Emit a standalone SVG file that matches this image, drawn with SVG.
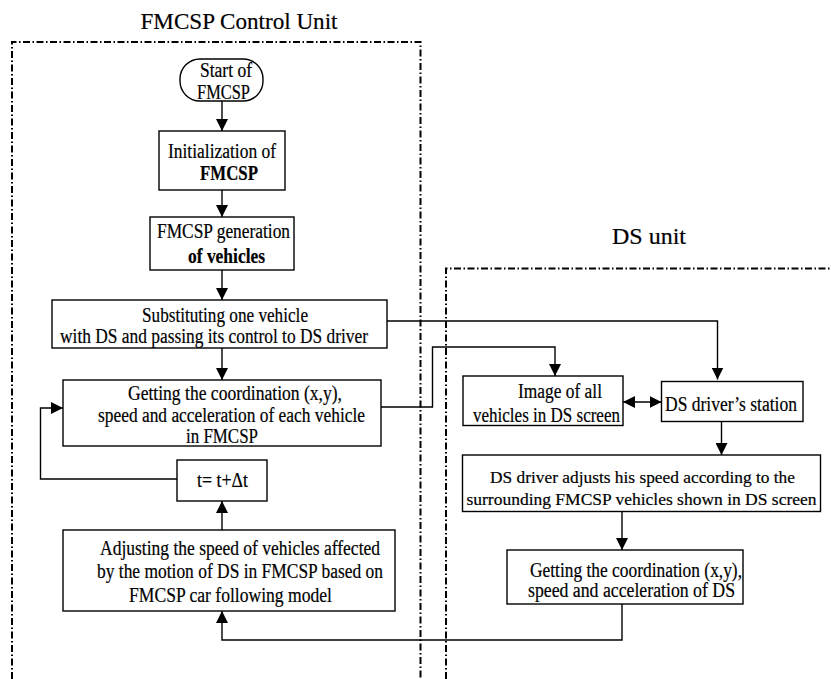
<svg xmlns="http://www.w3.org/2000/svg" width="831" height="679" viewBox="0 0 831 679">
  <style>
    text { font-family: 'Liberation Serif', 'Times New Roman', serif; fill: #000; stroke: #000; stroke-width: 0.2; text-anchor: middle; }
    .t { font-size: 20px; }
    .s { font-size: 17.5px; }
    .title { font-size: 24px; }
    .b { font-weight: bold; }
    .box { fill: #fff; stroke: #000; stroke-width: 1.4; }
    .unit { fill: none; stroke: #000; stroke-width: 2; stroke-dasharray: 7 2.5 1.5 2.5; }
    .wire { fill: none; stroke: #000; stroke-width: 1.4; }
  </style>
  <defs>
    <marker id="arr" viewBox="0 0 12 12" refX="12" refY="6" markerWidth="12" markerHeight="12" markerUnits="userSpaceOnUse" orient="auto-start-reverse">
      <path d="M0,0 L12,6 L0,12 Z" fill="#000"/>
    </marker>
  </defs>
  <rect width="831" height="679" fill="#fff"/>

  <!-- unit frames -->
  <g id="fmcsp-unit">
    <text class="title" x="239" y="29" textLength="197" lengthAdjust="spacingAndGlyphs">FMCSP Control Unit</text>
    <path class="unit" d="M12,679 V42 H420.5 V679"/>
  </g>
  <g id="ds-unit">
    <text class="title" x="649" y="244">DS unit</text>
    <path class="unit" d="M446,679 V268.5 H831"/>
  </g>

  <!-- connectors -->
  <g id="connectors">
    <path class="wire" d="M222,101 V131" marker-end="url(#arr)"/>
    <path class="wire" d="M222,190 V217" marker-end="url(#arr)"/>
    <path class="wire" d="M222,270 V300" marker-end="url(#arr)"/>
    <path class="wire" d="M222,348 V380" marker-end="url(#arr)"/>
    <path class="wire" d="M222,530 V501" marker-end="url(#arr)"/>
    <path class="wire" d="M177,479 H40.5 V408 H63" marker-end="url(#arr)"/>
    <path class="wire" d="M387,321 H717.5 V379.5" marker-end="url(#arr)"/>
    <path class="wire" d="M381,407 H432.5 V347 H555 V376" marker-end="url(#arr)"/>
    <path class="wire" d="M623,402 H661.5" marker-start="url(#arr)" marker-end="url(#arr)"/>
    <path class="wire" d="M721.5,421.5 V455" marker-end="url(#arr)"/>
    <path class="wire" d="M622,511.5 V550" marker-end="url(#arr)"/>
    <path class="wire" d="M622,604 V640 H222 V611" marker-end="url(#arr)"/>
  </g>

  <!-- FMCSP control unit nodes -->
  <g id="start">
    <rect class="box" x="180" y="59" width="83" height="42" rx="20" ry="20"/>
    <text class="t" x="226" y="77" textLength="52" lengthAdjust="spacingAndGlyphs">Start of</text>
    <text class="t" x="223.5" y="99" textLength="53" lengthAdjust="spacingAndGlyphs">FMCSP</text>
  </g>
  <g id="init">
    <rect class="box" x="159" y="131" width="126" height="59"/>
    <text class="t" x="222" y="158" textLength="108" lengthAdjust="spacingAndGlyphs">Initialization of</text>
    <text class="t b" x="229" y="180" textLength="58" lengthAdjust="spacingAndGlyphs">FMCSP</text>
  </g>
  <g id="generation">
    <rect class="box" x="150" y="217" width="144" height="53"/>
    <text class="t" x="223.5" y="238" textLength="133" lengthAdjust="spacingAndGlyphs">FMCSP generation</text>
    <text class="t b" x="226.5" y="263" textLength="77" lengthAdjust="spacingAndGlyphs">of vehicles</text>
  </g>
  <g id="substitute">
    <rect class="box" x="52" y="300" width="335" height="48"/>
    <text class="t" x="225" y="322" textLength="166" lengthAdjust="spacingAndGlyphs">Substituting one vehicle</text>
    <text class="t" x="214" y="343" textLength="308" lengthAdjust="spacingAndGlyphs">with DS and passing its control to DS driver</text>
  </g>
  <g id="get-all">
    <rect class="box" x="63" y="380" width="318" height="66"/>
    <text class="t" x="235" y="400" textLength="214" lengthAdjust="spacingAndGlyphs">Getting the coordination (x,y),</text>
    <text class="t" x="231.5" y="422" textLength="267" lengthAdjust="spacingAndGlyphs">speed and acceleration of each vehicle</text>
    <text class="t" x="222" y="443" textLength="72" lengthAdjust="spacingAndGlyphs">in FMCSP</text>
  </g>
  <g id="time-step">
    <rect class="box" x="177" y="460" width="90" height="41"/>
    <text class="t" x="222.5" y="487" textLength="51" lengthAdjust="spacingAndGlyphs">t= t+Δt</text>
  </g>
  <g id="adjust">
    <rect class="box" x="63" y="530" width="332" height="81"/>
    <text class="t" x="240" y="555" textLength="280" lengthAdjust="spacingAndGlyphs">Adjusting the speed of vehicles affected</text>
    <text class="t" x="240" y="578" textLength="286" lengthAdjust="spacingAndGlyphs">by the motion of DS in FMCSP based on</text>
    <text class="t" x="230.5" y="602" textLength="203" lengthAdjust="spacingAndGlyphs">FMCSP car following model</text>
  </g>

  <!-- DS unit nodes -->
  <g id="image">
    <rect class="box" x="463" y="376" width="160" height="49.5"/>
    <text class="t" x="560" y="398" textLength="84" lengthAdjust="spacingAndGlyphs">Image of all</text>
    <text class="t" x="546.5" y="421.5" textLength="147" lengthAdjust="spacingAndGlyphs">vehicles in DS screen</text>
  </g>
  <g id="station">
    <rect class="box" x="661.5" y="381.5" width="141.5" height="40"/>
    <text class="t" x="731" y="410.5" textLength="132" lengthAdjust="spacingAndGlyphs">DS driver’s station</text>
  </g>
  <g id="driver-adjusts">
    <rect class="box" x="462.5" y="455" width="358" height="56.5"/>
    <text class="s" x="642.5" y="483" textLength="305" lengthAdjust="spacingAndGlyphs">DS driver adjusts his speed according to the</text>
    <text class="s" x="641.5" y="505" textLength="350" lengthAdjust="spacingAndGlyphs">surrounding FMCSP vehicles shown in DS screen</text>
  </g>
  <g id="get-ds">
    <rect class="box" x="507" y="550" width="236" height="54"/>
    <text class="t" x="636" y="576.5" textLength="212" lengthAdjust="spacingAndGlyphs">Getting the coordination (x,y),</text>
    <text class="t" x="631.5" y="596.5" textLength="207" lengthAdjust="spacingAndGlyphs">speed and acceleration of DS</text>
  </g>
</svg>
